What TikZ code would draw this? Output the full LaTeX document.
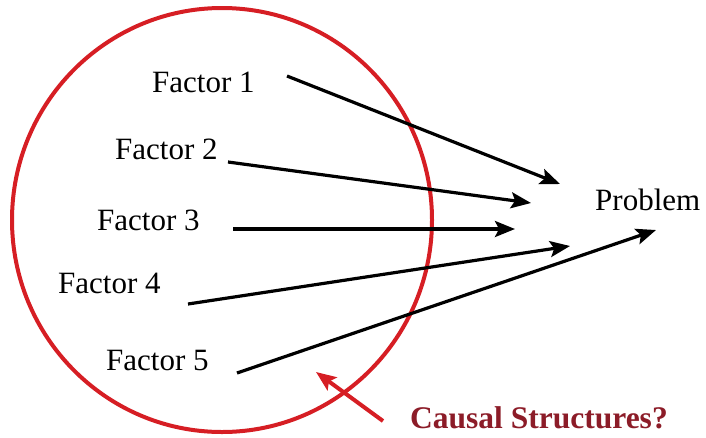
\documentclass[tikz,border=0pt]{standalone}
\usepackage{fontspec}
\setmainfont{Liberation Serif}
\usetikzlibrary{arrows.meta}
\definecolor{ringred}{RGB}{214,30,36}
\definecolor{labelred}{RGB}{140,28,40}
\begin{document}
\begin{tikzpicture}[x=1pt,y=-1pt,
  lbl/.style={inner sep=0pt,anchor=base west,font=\fontsize{31}{33}\selectfont},
  cause/.style={line width=3.2pt,-{Stealth[length=20pt,width=16pt,inset=4pt]}},
  ring/.style={draw=ringred,line width=4pt}]
\useasboundingbox (0,0) rectangle (706,437);
\draw[ring] (222,220) ellipse [x radius=210, y radius=212];
\node[lbl] (f1) at (152,92) {Factor 1};
\node[lbl] (f2) at (115,159) {Factor 2};
\node[lbl] (f3) at (97,230) {Factor 3};
\node[lbl] (f4) at (58,293) {Factor 4};
\node[lbl] (f5) at (106,370) {Factor 5};
\node[lbl] (prob) at (595,210) {Problem};
\node[lbl,font=\fontsize{31.5}{33}\selectfont\bfseries,text=labelred] (cs) at (410,428) {Causal Structures?};
\coordinate (s1) at (287,76);
\coordinate (s2) at (228,162);
\coordinate (s3) at (233,229);
\coordinate (s4) at (188,304);
\coordinate (s5) at (237,373);
\coordinate (e1) at (560,184);
\coordinate (e2) at (531,203);
\coordinate (e3) at (515,229);
\coordinate (e4) at (570,246);
\coordinate (e5) at (656,230);
\draw[cause] (s1) -- (e1);
\draw[cause] (s2) -- (e2);
\draw[cause] (s3) -- (e3);
\draw[cause] (s4) -- (e4);
\draw[cause] (s5) -- (e5);
\coordinate (rt) at (383,421);
\coordinate (rh) at (316,372);
\draw[draw=ringred,line width=4pt,-{Stealth[length=20pt,width=16pt,inset=4pt]}] (rt) -- (rh);
\end{tikzpicture}
\end{document}
